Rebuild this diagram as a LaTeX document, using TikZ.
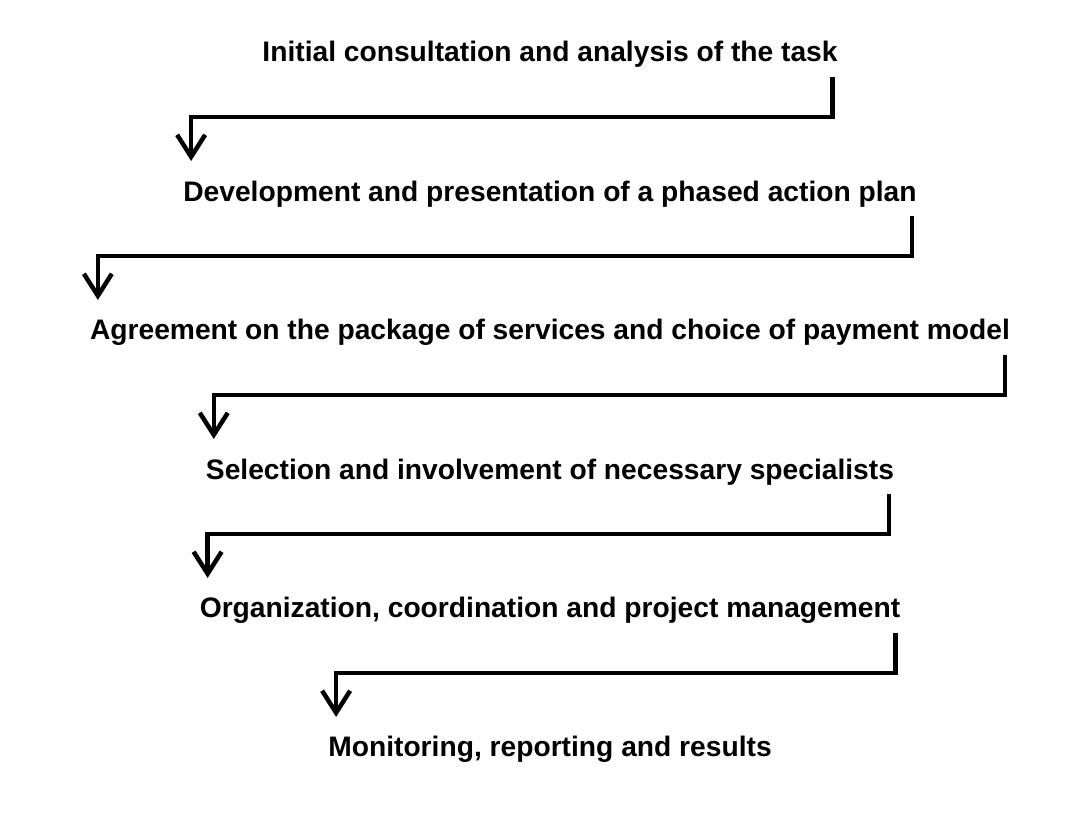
\documentclass[tikz,border=0pt]{standalone}
\usepackage{fontspec}
\setmainfont{Liberation Sans}
\usetikzlibrary{arrows.meta,positioning,calc}

\tikzset{
  stage/.style={inner sep=0pt, font=\fontsize{28.2}{33}\selectfont\bfseries, text=black},
  flow/.style={line width=4.5pt, -{Straight Barb[length=22pt,width=28pt]}},
}

\begin{document}
\begin{tikzpicture}[node distance=139pt,on grid]
  \useasboundingbox (0,0) rectangle (1080pt,-816pt);
  \node[stage,anchor=base] (s1) at (550pt,-62pt) {Initial consultation and analysis of the task};
  \node[stage] (s2) [below=of s1] {Development and presentation of a phased action plan};
  \node[stage] (s3) [below=of s2] {Agreement on the package of services and choice of payment model};
  \node[stage] (s4) [below=of s3] {Selection and involvement of necessary specialists};
  \node[stage] (s5) [below=of s4] {Organization, coordination and project management};
  \node[stage] (s6) [below=of s5] {Monitoring, reporting and results};

  \draw[flow] ([shift={(-5pt,-15pt)}]s1.base east) -- ++(0,-40pt) -| ([shift={(8pt,40pt)}]s2.base west);
  \draw[flow] ([shift={(-5pt,-15pt)}]s2.base east) -- ++(0,-40pt) -| ([shift={(8pt,40pt)}]s3.base west);
  \draw[flow] ([shift={(-5pt,-15pt)}]s3.base east) -- ++(0,-40pt) -| ([shift={(8pt,40pt)}]s4.base west);
  \draw[flow] ([shift={(-5pt,-15pt)}]s4.base east) -- ++(0,-40pt) -| ([shift={(8pt,40pt)}]s5.base west);
  \draw[flow] ([shift={(-5pt,-15pt)}]s5.base east) -- ++(0,-40pt) -| ([shift={(8pt,40pt)}]s6.base west);
\end{tikzpicture}
\end{document}
